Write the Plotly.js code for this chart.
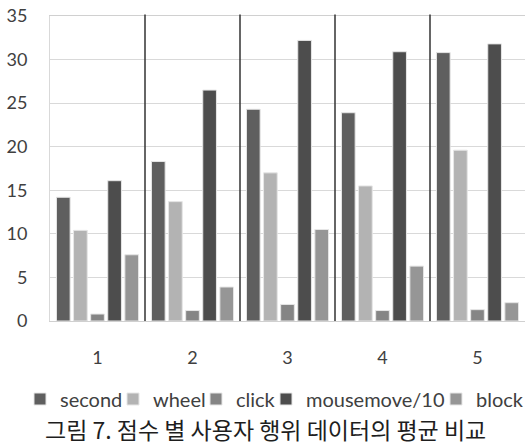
<!DOCTYPE html>
<html>
<head>
<meta charset="utf-8">
<script src="https://cdn.plot.ly/plotly-3.0.1.min.js"></script>
<style>html,body{margin:0;padding:0;background:#fff;}#chart{width:528px;height:448px;}</style>
</head>
<body>
<div id="chart"></div>
<script>
const categories = ["1", "2", "3", "4", "5"];
const seriesNames = ["second", "wheel", "click", "mousemove/10", "block"];
const second = [14.2, 18.3, 24.3, 23.9, 30.8];
const wheel = [10.4, 13.7, 17.0, 15.5, 19.6];
const click = [0.8, 1.2, 1.9, 1.2, 1.3];
const mousemove10 = [16.1, 26.5, 32.2, 30.9, 31.8];
const block = [7.6, 3.9, 10.5, 6.3, 2.1];
const yTicks = [0, 5, 10, 15, 20, 25, 30, 35];
const caption = "그림 7. 점수 별 사용자 행위 데이터의 평균 비교";

const seriesValues = [second, wheel, click, mousemove10, block];
const colors = ["#5f5f5f", "#b3b3b3", "#858585", "#4d4d4d", "#969696"];
const legendIds = ["legend", "legend2", "legend3", "legend4", "legend5"];
// left edge (px) of each legend entry, so the entries sit where the reference has them
const legendLeftPx = [20, 113, 196, 266, 436];

const W = 528, H = 448;

const traces = seriesNames.map((name, i) => ({
  type: "bar",
  name: name,
  x: categories,
  y: seriesValues[i],
  legend: legendIds[i],
  showlegend: true,
  marker: {color: colors[i], line: {color: "#e6e6e6", width: 1}},
  hoverinfo: "none"
}));

// category separators
const shapes = [];
for (let k = 0; k < categories.length - 1; k++) {
  shapes.push({type: "line", xref: "x", yref: "paper", x0: k + 0.5, x1: k + 0.5, y0: 0, y1: 1.005,
    line: {color: "#333333", width: 1.5}});
}

const layout = {
  width: W, height: H,
  showlegend: true,
  margin: {l: 50, r: 3, t: 16, b: 126.5, autoexpand: false},
  paper_bgcolor: "#ffffff", plot_bgcolor: "#ffffff",
  barmode: "group",
  bargap: 0.1,
  bargroupgap: 0.2,
  font: {family: "Lato, sans-serif", color: "#404040"},
  xaxis: {
    type: "category",
    range: [-0.5, 4.5],
    showgrid: false, zeroline: false,
    showline: true, mirror: true, linecolor: "#d0d0d0", linewidth: 1,
    ticks: "",
    ticklabelstandoff: 20,
    tickfont: {family: "Lato, sans-serif", size: 18, color: "#404040"}
  },
  yaxis: {
    range: [0, 35],
    tickvals: yTicks,
    ticktext: yTicks.map(String),
    showgrid: true, gridcolor: "#d9d9d9", gridwidth: 1,
    zeroline: true, zerolinecolor: "#d9d9d9", zerolinewidth: 1,
    showline: true, linecolor: "#d9d9d9", linewidth: 1,
    ticks: "",
    ticklabelstandoff: 18,
    tickfont: {family: "Lato, sans-serif", size: 18, color: "#404040"}
  },
  shapes: shapes,
  annotations: [{
    text: caption, xref: "paper", yref: "paper", x: 0.4537, xanchor: "center",
    y: 0, yanchor: "middle", yshift: -(429 - 321.5), showarrow: false,
    font: {family: "Noto Sans CJK KR, sans-serif", size: 23, color: "#1e1e1e"}
  }]
};

legendIds.forEach((id, i) => {
  layout[id] = {
    visible: true,
    orientation: "h",
    xref: "container", yref: "container",
    x: legendLeftPx[i] / W, xanchor: "left",
    y: 1 - 399 / H, yanchor: "middle",
    bgcolor: "rgba(0,0,0,0)",
    borderwidth: 0,
    font: {family: "Lato, sans-serif", size: 20, color: "#404040"}
  };
});

Plotly.newPlot("chart", traces, layout, {displayModeBar: false, staticPlot: true});
</script>
</body>
</html>
